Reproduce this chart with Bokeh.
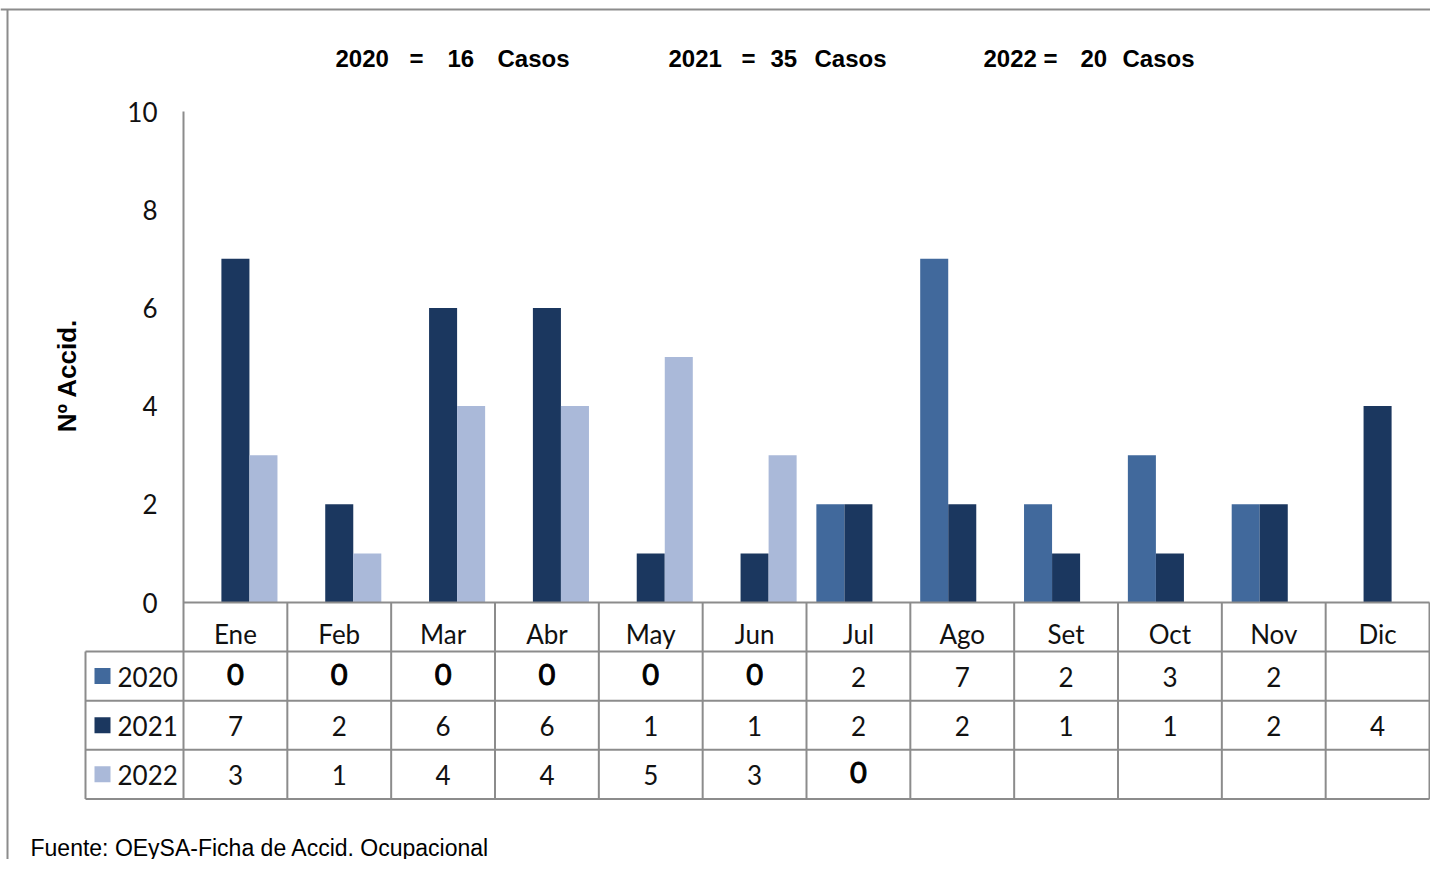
import math
from bokeh.plotting import figure
from bokeh.models import Range1d
from bokeh.core.properties import value
from bokeh.embed import file_html
from bokeh.resources import INLINE

# ---------------- data ----------------
months = ["Ene", "Feb", "Mar", "Abr", "May", "Jun", "Jul", "Ago", "Set", "Oct", "Nov", "Dic"]
years = ["2020", "2021", "2022"]
v2020 = [0, 0, 0, 0, 0, 0, 2, 7, 2, 3, 2, None]
v2021 = [7, 2, 6, 6, 1, 1, 2, 2, 1, 1, 2, 4]
v2022 = [3, 1, 4, 4, 5, 3, 0, None, None, None, None, None]
y_ticks = [0, 2, 4, 6, 8, 10]
y_title = "Nº Accid."
footer = "Fuente: OEySA-Ficha de Accid. Ocupacional"

# ---------------- style / layout ----------------
colors = ["#41699C", "#1B375F", "#AAB9D9"]
GRID = "#8C8C8C"
CAL = "Lato"
ARIAL = "Liberation Sans"

CW, CH = 1430, 859          # canvas size
OX, OY = 183, 602           # canvas px of plot origin
UX = (1429 - 183) / 12.0    # px per month
UY = (602 - 111) / 10.0     # px per unit


def dx(px):
    return (px - OX) / UX


def dy(py):
    return (OY - py) / UY


p = figure(width=CW, height=CH, output_backend="svg", toolbar_location=None,
           x_axis_type=None, y_axis_type=None,
           x_range=Range1d(dx(0), dx(CW)),
           y_range=Range1d(dy(CH), dy(0)),
           min_border=0)
p.outline_line_color = None
p.xgrid.visible = False
p.ygrid.visible = False
p.background_fill_color = "white"
p.border_fill_color = "white"

# outer frame (top and left edges)
p.segment(x0=[dx(0)], y0=[dy(9)], x1=[dx(CW)], y1=[dy(9)], line_color=GRID, line_width=2)
p.segment(x0=[dx(7)], y0=[dy(9)], x1=[dx(7)], y1=[dy(CH)], line_color=GRID, line_width=2)

# ---------------- bars ----------------
series = [v2020, v2021, v2022]
BW = 0.27
for k, vals in enumerate(series):
    xs, tops = [], []
    for i, v in enumerate(vals):
        if v is None:
            continue
        xs.append(i + 0.5 + (k - 1) * BW)
        tops.append(v)
    p.vbar(x=xs, top=tops, bottom=0, width=BW, fill_color=colors[k], line_color=None)

# ---------------- axis & table lines ----------------
n = len(months)
nrows = len(years)
legend_left = dx(85)
p.segment(x0=[0], y0=[y_ticks[-1]], x1=[0], y1=[-1 - nrows], line_color=GRID, line_width=2)
p.segment(x0=[0], y0=[0], x1=[n], y1=[0], line_color=GRID, line_width=2)
hy = [-1 - r for r in range(nrows + 1)]
p.segment(x0=[legend_left] * (nrows + 1), y0=hy, x1=[n] * (nrows + 1), y1=hy, line_color=GRID, line_width=2)
vx = list(range(1, n + 1))
p.segment(x0=vx, y0=[0] * n, x1=vx, y1=[-1 - nrows] * n, line_color=GRID, line_width=2)
p.segment(x0=[legend_left], y0=[-1], x1=[legend_left], y1=[-1 - nrows], line_color=GRID, line_width=2)

TXT = "#111111"

# ---------------- y tick labels ----------------
p.text(x=[dx(157)] * len(y_ticks), y=y_ticks,
       text=[str(t) for t in y_ticks], text_align="right", text_baseline="middle",
       text_font=value(CAL), text_font_size="26px", text_color=TXT)

# ---------------- y axis title ----------------
p.text(x=[dx(66)], y=[dy(375)], text=[y_title], angle=math.pi / 2,
       text_align="center", text_baseline="middle",
       text_font=value(ARIAL), text_font_style="bold", text_font_size="26px", text_color="black")

# ---------------- header row (months) ----------------
p.text(x=[i + 0.5 for i in range(n)], y=[-31.5 / UY] * n, text=months,
       text_align="center", text_baseline="middle",
       text_font=value(CAL), text_font_size="26px", text_color=TXT)

# ---------------- data rows ----------------
ROWC = 25 / UY
for k, vals in enumerate(series):
    row_top = -1 - k
    norm_x, norm_t, zero_x = [], [], []
    for i, v in enumerate(vals):
        if v is None:
            continue
        if v == 0:
            zero_x.append(i + 0.5)
        else:
            norm_x.append(i + 0.5)
            norm_t.append(str(v))
    p.text(x=norm_x, y=[row_top - ROWC] * len(norm_x), text=norm_t,
           text_align="center", text_baseline="middle",
           text_font=value(CAL), text_font_size="26px", text_color=TXT)
    if zero_x:
        p.text(x=zero_x, y=[row_top - 23 / UY] * len(zero_x), text=["0"] * len(zero_x),
               text_align="center", text_baseline="middle",
               text_font=value(CAL), text_font_size="29px", text_color="black",
               text_outline_color="black")
    # legend key + label
    p.rect(x=[dx(102)], y=[row_top - 24.5 / UY], width=16 / UX, height=16 / UY,
           fill_color=colors[k], line_color=None)
    p.text(x=[dx(117)], y=[row_top - ROWC], text=[years[k]],
           text_align="left", text_baseline="middle",
           text_font=value(CAL), text_font_size="26px", text_color=TXT)

# ---------------- title (totals) ----------------
totals = [sum(v for v in s if v is not None) for s in series]
group_x = [(335, 409, 447, 497), (668, 741, 770, 814), (983, 1043, 1080, 1122)]
for k in range(len(years)):
    gx = group_x[k]
    toks = [years[k], "=", str(totals[k]), "Casos"]
    p.text(x=[dx(g) for g in gx], y=[dy(58)] * 4, text=toks,
           text_align="left", text_baseline="middle",
           text_font=value(ARIAL), text_font_style="bold", text_font_size="24px", text_color="black")

# ---------------- footer ----------------
p.text(x=[dx(30)], y=[dy(847)], text=[footer], text_align="left", text_baseline="middle",
       text_font=value(ARIAL), text_font_size="23px", text_color="black")

open("out.html", "w").write(file_html(p, INLINE))
